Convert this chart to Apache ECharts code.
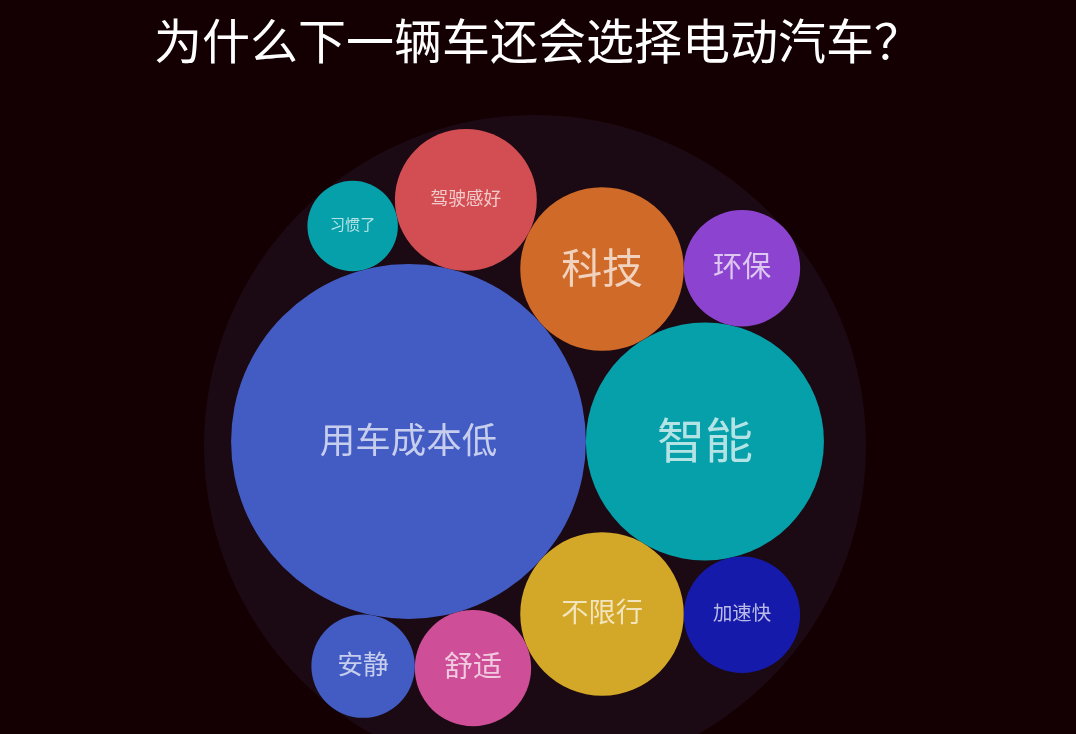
<!DOCTYPE html>
<html>
<head>
<meta charset="utf-8">
<script src="https://cdn.jsdelivr.net/npm/echarts@6/dist/echarts.min.js"></script>
<style>
html,body{margin:0;padding:0;background:#140003;}
#main{width:1076px;height:734px;}
</style>
</head>
<body>
<div id="main"></div>
<script>
// ---------- data ----------
const titleText = '为什么下一辆车还会选择电动汽车？';
const categories = ['用车成本低', '智能', '不限行', '科技', '驾驶感好', '舒适', '环保', '加速快', '安静', '习惯了'];
const values = [40, 18, 8.5, 8.5, 6.4, 4.3, 4.3, 4.3, 3.4, 2.6];
const palette = ['#435cc4', '#06a0ab', '#d3a727', '#d06a28', '#d34e52', '#cf4e98', '#8c44d0', '#161aaa'];

// ---------- layout constants ----------
const W = 1076, H = 734;
const OUTER_PX = 331;          // radius of the enclosing circle in pixels
const CENTER_PX = [535, 446];  // where the enclosing circle centre lands

// ---------- circle packing (front-chain, as in d3.packSiblings) ----------
function place(b, a, c) {
  var dx = b.x - a.x, x, a2, dy = b.y - a.y, y, b2, d2 = dx * dx + dy * dy;
  if (d2) {
    a2 = a.r + c.r; a2 *= a2;
    b2 = b.r + c.r; b2 *= b2;
    if (a2 > b2) {
      x = (d2 + b2 - a2) / (2 * d2);
      y = Math.sqrt(Math.max(0, b2 / d2 - x * x));
      c.x = b.x - x * dx - y * dy;
      c.y = b.y - x * dy + y * dx;
    } else {
      x = (d2 + a2 - b2) / (2 * d2);
      y = Math.sqrt(Math.max(0, a2 / d2 - x * x));
      c.x = a.x + x * dx - y * dy;
      c.y = a.y + x * dy + y * dx;
    }
  } else {
    c.x = a.x + c.r; c.y = a.y;
  }
}
function intersects(a, b) {
  var dr = a.r + b.r - 1e-6, dx = b.x - a.x, dy = b.y - a.y;
  return dr > 0 && dr * dr > dx * dx + dy * dy;
}
function score(node) {
  var a = node._, b = node.next._, ab = a.r + b.r,
      dx = (a.x * b.r + b.x * a.r) / ab, dy = (a.y * b.r + b.y * a.r) / ab;
  return dx * dx + dy * dy;
}
function Node(c) { this._ = c; this.next = null; this.previous = null; }

function packSiblings(circles) {
  var n = circles.length, a, b, c, aa, ca, i, j, k, sj, sk;
  a = circles[0]; a.x = 0; a.y = 0;
  if (n < 2) return;
  b = circles[1]; a.x = -b.r; b.x = a.r; b.y = 0;
  if (n < 3) return;
  place(b, a, c = circles[2]);
  a = new Node(a); b = new Node(b); c = new Node(c);
  a.next = c.previous = b;
  b.next = a.previous = c;
  c.next = b.previous = a;
  pack: for (i = 3; i < n; ++i) {
    place(a._, b._, c = circles[i]); c = new Node(c);
    j = b.next; k = a.previous; sj = b._.r; sk = a._.r;
    do {
      if (sj <= sk) {
        if (intersects(j._, c._)) { b = j; a.next = b; b.previous = a; --i; continue pack; }
        sj += j._.r; j = j.next;
      } else {
        if (intersects(k._, c._)) { a = k; a.next = b; b.previous = a; --i; continue pack; }
        sk += k._.r; k = k.previous;
      }
    } while (j !== k.next);
    c.previous = a; c.next = b; a.next = b.previous = b = c;
    aa = score(a);
    while ((c = c.next) !== b) {
      if ((ca = score(c)) < aa) { a = c; aa = ca; }
    }
    b = a.next;
  }
}

// minimal enclosing circle (Badoiu–Clarkson iteration)
function enclose(circles) {
  var cx = 0, cy = 0, it, i, best, bd, d, dx, dy, px, py;
  for (i = 0; i < circles.length; i++) { cx += circles[i].x; cy += circles[i].y; }
  cx /= circles.length; cy /= circles.length;
  for (it = 1; it < 200000; it++) {
    bd = -1; best = null;
    for (i = 0; i < circles.length; i++) {
      dx = circles[i].x - cx; dy = circles[i].y - cy;
      d = Math.sqrt(dx * dx + dy * dy) + circles[i].r;
      if (d > bd) { bd = d; best = circles[i]; }
    }
    dx = best.x - cx; dy = best.y - cy;
    d = Math.sqrt(dx * dx + dy * dy) || 1;
    px = best.x + dx / d * best.r; py = best.y + dy / d * best.r;
    cx += (px - cx) / (it + 1); cy += (py - cy) / (it + 1);
  }
  var R = 0;
  for (i = 0; i < circles.length; i++) {
    dx = circles[i].x - cx; dy = circles[i].y - cy;
    R = Math.max(R, Math.sqrt(dx * dx + dy * dy) + circles[i].r);
  }
  return { x: cx, y: cy, r: R };
}

const circles = values.map(function (v, i) { return { r: Math.sqrt(v), idx: i }; });
packSiblings(circles);
const enc = enclose(circles);
circles.forEach(function (c) { c.x -= enc.x; c.y -= enc.y; });

const scale = OUTER_PX / enc.r; // px per unit
const xMin = -CENTER_PX[0] / scale, xMax = (W - CENTER_PX[0]) / scale;
const yMin = -CENTER_PX[1] / scale, yMax = (H - CENTER_PX[1]) / scale;

const bubbleData = circles.map(function (c) {
  return { name: categories[c.idx], value: [c.x, c.y, c.r, c.idx] };
});

const chart = echarts.init(document.getElementById('main'), null, { renderer: 'canvas' });
chart.setOption({
  backgroundColor: '#140003',
  animation: false,
  title: {
    text: titleText,
    left: 'center',
    top: 12,
    textStyle: { color: '#ffffff', fontSize: 48, fontWeight: 'normal', fontFamily: 'Noto Sans CJK SC' }
  },
  grid: { left: 0, right: 0, top: 0, bottom: 0 },
  xAxis: { type: 'value', min: xMin, max: xMax, show: false },
  yAxis: { type: 'value', min: yMin, max: yMax, inverse: true, show: false },
  series: [
    {
      type: 'custom',
      coordinateSystem: 'cartesian2d',
      silent: true,
      z: 1,
      data: [[0, 0, enc.r]],
      renderItem: function (params, api) {
        var p = api.coord([api.value(0), api.value(1)]);
        var r = api.size([api.value(2), 0])[0];
        return { type: 'circle', shape: { cx: p[0], cy: p[1], r: r }, style: { fill: '#1b0a13' } };
      }
    },
    {
      type: 'custom',
      coordinateSystem: 'cartesian2d',
      z: 2,
      data: bubbleData,
      renderItem: function (params, api) {
        var p = api.coord([api.value(0), api.value(1)]);
        var r = api.size([api.value(2), 0])[0];
        var idx = api.value(3);
        var name = categories[idx];
        var fs = Math.min(r / name.length, 48);
        return {
          type: 'group',
          children: [
            { type: 'circle', shape: { cx: p[0], cy: p[1], r: r }, style: { fill: palette[idx % palette.length] } },
            { type: 'text', style: {
                text: name, x: p[0], y: p[1] - 2, align: 'center', verticalAlign: 'middle',
                fontSize: fs, fontFamily: 'Noto Sans CJK SC', fill: 'rgba(255,255,255,0.7)'
              } }
          ]
        };
      }
    }
  ]
});
</script>
</body>
</html>
